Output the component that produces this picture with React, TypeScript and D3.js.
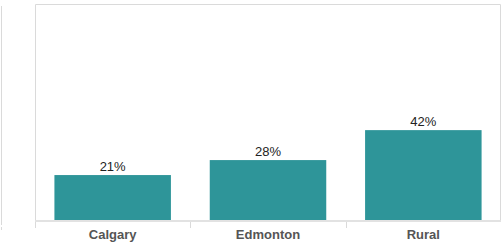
import React, { useEffect, useRef } from 'react';
import * as d3 from 'd3';

const categories = ['Calgary', 'Edmonton', 'Rural'];
const shares = [0.21, 0.28, 0.42];

export default function App() {
  const ref = useRef<SVGSVGElement>(null);

  useEffect(() => {
    const width = 502;
    const height = 243;
    const left = 35;
    const right = 501;
    const top = 4;
    const base = 220;

    const svg = d3.select(ref.current);
    svg.selectAll('*').remove();
    svg.attr('width', width).attr('height', height);

    const x = d3.scaleBand<string>()
      .domain(categories)
      .range([left, right])
      .paddingInner(0.25)
      .paddingOuter(0.125);

    const cells = d3.scaleBand<string>()
      .domain(categories)
      .range([left, right])
      .padding(0);

    // 0-100% spans the panel
    const y = d3.scaleLinear().domain([0, 1]).range([base, top + 2]);

    const grey = '#dadada';

    // outer left rule
    svg.append('line')
      .attr('x1', 1.5).attr('x2', 1.5)
      .attr('y1', 6).attr('y2', 225)
      .attr('stroke', grey);
    svg.append('line')
      .attr('x1', 1.5).attr('x2', 1.5)
      .attr('y1', 227).attr('y2', 230)
      .attr('stroke', grey);

    // panel frame
    svg.append('path')
      .attr('d', `M${left + 0.5},${base}V${top + 0.5}H${right - 0.5}V${base}`)
      .attr('fill', 'none')
      .attr('stroke', grey);

    // bars
    svg.selectAll('rect.bar')
      .data(categories)
      .enter()
      .append('rect')
      .attr('class', 'bar')
      .attr('x', d => x(d)!)
      .attr('width', x.bandwidth())
      .attr('y', (d, i) => y(shares[i]))
      .attr('height', (d, i) => base - y(shares[i]))
      .attr('fill', '#2e9599');

    // value labels
    svg.selectAll('text.val')
      .data(categories)
      .enter()
      .append('text')
      .attr('class', 'val')
      .attr('x', d => x(d)! + x.bandwidth() / 2)
      .attr('y', (d, i) => y(shares[i]) - 4)
      .attr('text-anchor', 'middle')
      .style('font-family', 'Arial, "Liberation Sans", sans-serif')
      .style('font-size', '13px')
      .attr('fill', '#222')
      .text((d, i) => d3.format('.0%')(shares[i]));

    // x axis base
    svg.append('line')
      .attr('x1', left).attr('x2', right)
      .attr('y1', base + 1).attr('y2', base + 1)
      .attr('stroke', '#e2e2e2')
      .attr('stroke-width', 2);

    // category ticks
    svg.selectAll('line.tick')
      .data(categories)
      .enter()
      .append('line')
      .attr('class', 'tick')
      .attr('x1', d => Math.round(cells(d)!) + 0.5)
      .attr('x2', d => Math.round(cells(d)!) + 0.5)
      .attr('y1', base + 2)
      .attr('y2', base + 8)
      .attr('stroke', grey);

    svg.selectAll('text.cat')
      .data(categories)
      .enter()
      .append('text')
      .attr('class', 'cat')
      .attr('x', d => x(d)! + x.bandwidth() / 2)
      .attr('y', 239)
      .attr('text-anchor', 'middle')
      .style('font-family', 'Arial, "Liberation Sans", sans-serif')
      .style('font-size', '13px')
      .style('font-weight', 'bold')
      .attr('fill', '#555')
      .text(d => d);
  }, []);

  return (
    <div style={{ position: 'absolute', left: 0, top: 0 }}>
      <svg ref={ref} style={{ display: 'block' }}></svg>
    </div>
  );
}
